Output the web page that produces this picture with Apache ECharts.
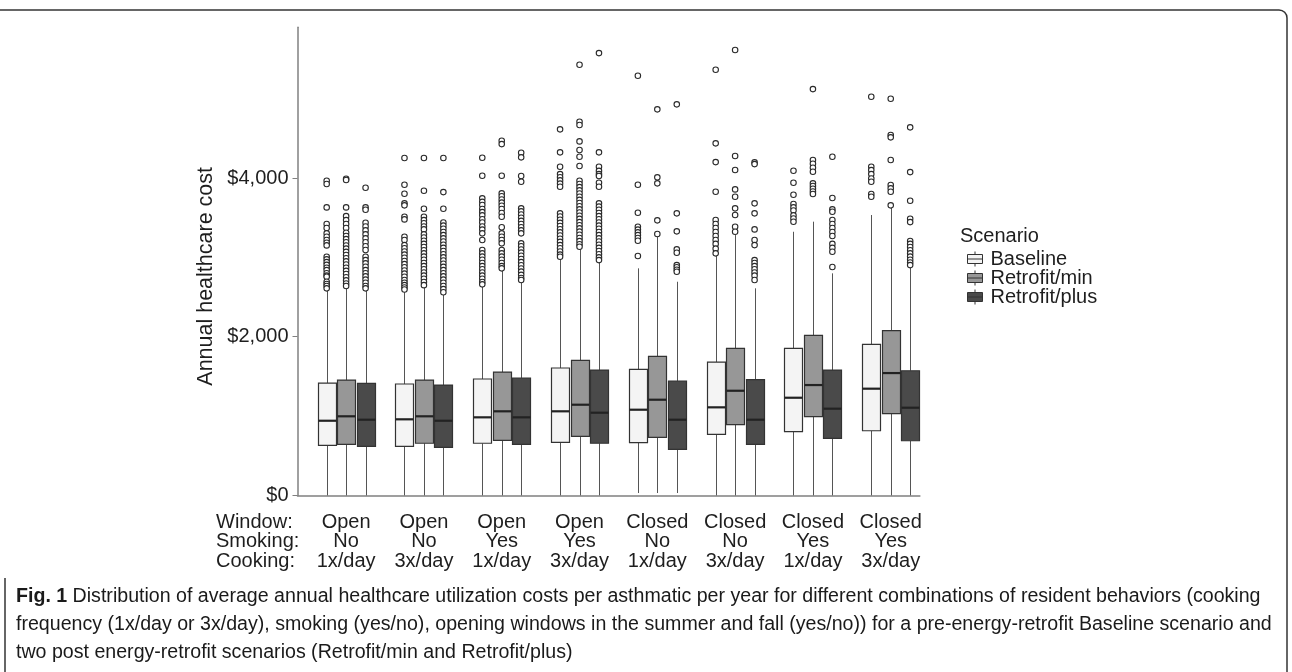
<!DOCTYPE html>
<html><head><meta charset="utf-8">
<script src="https://cdn.jsdelivr.net/npm/echarts@6/dist/echarts.min.js"></script>
<style>html,body{margin:0;padding:0;background:#fff}#c{width:1292px;height:672px}</style>
</head><body><div id="c"></div>
<script>
// ---------------- data ----------------
const groupWindow  = ['Open','Open','Open','Open','Closed','Closed','Closed','Closed'];
const groupSmoking = ['No','No','Yes','Yes','No','No','Yes','Yes'];
const groupCooking = ['1x/day','3x/day','1x/day','3x/day','1x/day','3x/day','1x/day','3x/day'];
const rowTitles = ['Window:', 'Smoking:', 'Cooking:'];
const scenarios = ['Baseline', 'Retrofit/min', 'Retrofit/plus'];
const yTicks = [0, 2000, 4000];

// [min, Q1, median, Q3, upper whisker] per behaviour group
const baselineBox = [
  [0, 631, 941, 1416, 2588], [0, 619, 959, 1404, 2588], [0, 657, 984, 1467, 2651], [0, 669, 1060, 1606, 2988],
  [30, 664, 1080, 1589, 2862], [0, 770, 1110, 1681, 3051], [0, 803, 1231, 1854, 3323], [0, 815, 1345, 1904, 3534]
];
const retrofitMinBox = [
  [0, 644, 997, 1454, 2630], [0, 657, 997, 1454, 2630], [0, 694, 1060, 1555, 2840], [0, 745, 1143, 1703, 3114],
  [30, 732, 1206, 1753, 3281], [0, 891, 1319, 1854, 3281], [0, 992, 1391, 2018, 3450], [0, 1030, 1542, 2076, 3656]
];
const retrofitPlusBox = [
  [0, 619, 954, 1413, 2588], [0, 606, 941, 1391, 2547], [0, 644, 984, 1480, 2693], [0, 657, 1042, 1580, 2945],
  [30, 581, 954, 1442, 2693], [0, 644, 954, 1458, 2610], [0, 720, 1093, 1580, 2799], [0, 689, 1105, 1571, 2882]
];

const baselineOutliers = [
  [3966, 3924, 3630, 3420, 3370, 3303, 3261, 3219, 3184, 3151, 3008, 2975, 2940, 2905, 2870, 2840, 2800, 2770, 2756, 2693, 2665, 2640, 2610],
  [4252, 3916, 3802, 3681, 3656, 3512, 3479, 3261, 3219, 3155, 3115, 3075, 3035, 2995, 2955, 2915, 2875, 2835, 2795, 2755, 2714, 2680, 2650, 2620, 2595],
  [4256, 4029, 3744, 3700, 3660, 3610, 3570, 3530, 3480, 3440, 3390, 3350, 3303, 3219, 3093, 3050, 3010, 2970, 2930, 2890, 2850, 2810, 2770, 2730, 2690, 2660],
  [4614, 4324, 4142, 4050, 4010, 3970, 3930, 3890, 3555, 3515, 3475, 3435, 3395, 3355, 3315, 3275, 3235, 3195, 3155, 3115, 3075, 3035, 3008],
  [5289, 3916, 3563, 3386, 3350, 3315, 3280, 3245, 3210, 3017],
  [5365, 4437, 4201, 3827, 3471, 3420, 3370, 3320, 3270, 3220, 3170, 3110, 3051],
  [4092, 3941, 3790, 3672, 3630, 3590, 3530, 3490, 3450],
  [5024, 4142, 4100, 4050, 3995, 3953, 3798, 3764]
];
const retrofitMinOutliers = [
  [3991, 3975, 3630, 3520, 3470, 3420, 3370, 3310, 3270, 3230, 3190, 3150, 3110, 3070, 3030, 2990, 2950, 2910, 2870, 2830, 2790, 2750, 2710, 2670, 2640],
  [4252, 3840, 3613, 3512, 3470, 3430, 3390, 3353, 3290, 3250, 3210, 3170, 3130, 3090, 3050, 3010, 2970, 2930, 2890, 2850, 2810, 2770, 2730, 2690, 2650],
  [4470, 4428, 4029, 3807, 3770, 3730, 3690, 3650, 3610, 3560, 3512, 3379, 3303, 3260, 3220, 3177, 3093, 3050, 3010, 2970, 2930, 2890, 2862],
  [5428, 4709, 4668, 4462, 4353, 4268, 4151, 3966, 3925, 3885, 3845, 3805, 3765, 3725, 3685, 3645, 3605, 3565, 3525, 3485, 3445, 3405, 3365, 3325, 3285, 3245, 3205, 3165, 3134],
  [4866, 4009, 3933, 3467, 3294],
  [5613, 4277, 4101, 3857, 3764, 3618, 3534, 3386, 3323],
  [5121, 4227, 4180, 4130, 4079, 3933, 3900, 3865, 3830, 3798],
  [4999, 4542, 4513, 4227, 3912, 3870, 3827, 3656]
];
const retrofitPlusOutliers = [
  [3878, 3630, 3600, 3437, 3390, 3340, 3290, 3240, 3190, 3140, 3093, 3008, 2965, 2925, 2882, 2840, 2800, 2760, 2720, 2680, 2640, 2610],
  [4252, 3823, 3613, 3440, 3400, 3360, 3320, 3280, 3240, 3200, 3160, 3120, 3080, 3040, 3000, 2960, 2920, 2880, 2840, 2800, 2760, 2720, 2680, 2640, 2600, 2560],
  [4319, 4261, 4025, 3953, 3618, 3580, 3540, 3500, 3460, 3420, 3380, 3340, 3303, 3177, 3140, 3100, 3060, 3020, 2980, 2940, 2900, 2860, 2820, 2780, 2740, 2714],
  [5575, 4324, 4142, 4090, 4050, 4025, 3941, 3890, 3681, 3640, 3600, 3560, 3520, 3480, 3440, 3400, 3360, 3320, 3280, 3240, 3200, 3160, 3120, 3080, 3040, 3000, 2966],
  [4929, 3555, 3328, 3101, 3059, 2903, 2875, 2845, 2819],
  [4197, 4176, 3681, 3555, 3353, 3219, 3155, 2966, 2930, 2890, 2850, 2810, 2770, 2714],
  [4268, 3748, 3605, 3575, 3471, 3420, 3370, 3320, 3270, 3170, 3120, 3071, 2878],
  [4639, 4075, 3714, 3487, 3445, 3206, 3170, 3130, 3090, 3050, 3010, 2970, 2935, 2903]
];

const captionLines = [
  'Distribution of average annual healthcare utilization costs per asthmatic per year for different combinations of resident behaviors (cooking',
  'frequency (1x/day or 3x/day), smoking (yes/no), opening windows in the summer and fall (yes/no)) for a pre-energy-retrofit Baseline scenario and',
  'two post energy-retrofit scenarios (Retrofit/min and Retrofit/plus)'
];
const captionLead = 'Fig. 1';

// ---------------- build ----------------
const boxSets = [baselineBox, retrofitMinBox, retrofitPlusBox];
const outlierSets = [baselineOutliers, retrofitMinOutliers, retrofitPlusOutliers];
const fills = ['#f4f4f4', '#979797', '#4a4a4a'];
const nGroups = groupWindow.length;
const slotsPerGroup = 4; // one spacer slot + three scenario slots
const slotNames = [];
for (let g = 0; g < nGroups; g++) for (let k = 0; k < slotsPerGroup; k++) slotNames.push('g' + g + 's' + k);
const slotOf = (g, s) => g * slotsPerGroup + 1 + s;

const FONT = '"Liberation Sans", Arial, Helvetica, sans-serif';
const TXT = '#1e1e1e';
const AX = '#808080';

function renderBox(params, api) {
  const x = api.value(0);
  const pMin = api.coord([x, api.value(1)]);
  const pQ1 = api.coord([x, api.value(2)]);
  const pMed = api.coord([x, api.value(3)]);
  const pQ3 = api.coord([x, api.value(4)]);
  const pMax = api.coord([x, api.value(5)]);
  const cx = Math.round(pMed[0]) + 0.5;
  const half = 9;
  const fill = api.visual('color');
  return {
    type: 'group',
    children: [
      { type: 'line', shape: { x1: cx, y1: pQ1[1], x2: cx, y2: pMin[1] }, style: { stroke: '#555', lineWidth: 1 } },
      { type: 'line', shape: { x1: cx, y1: pQ3[1], x2: cx, y2: pMax[1] }, style: { stroke: '#555', lineWidth: 1 } },
      { type: 'rect', shape: { x: cx - half, y: pQ3[1], width: half * 2, height: pQ1[1] - pQ3[1] },
        style: { fill: fill, stroke: '#333', lineWidth: 1.2 } },
      { type: 'line', shape: { x1: cx - half, y1: pMed[1], x2: cx + half, y2: pMed[1] }, style: { stroke: '#222', lineWidth: 2.2 } }
    ]
  };
}

const series = [];
scenarios.forEach((name, s) => {
  series.push({
    name: name,
    type: 'custom',
    renderItem: renderBox,
    itemStyle: { color: fills[s], borderColor: '#333', borderWidth: 1 },
    encode: { x: 0, y: [1, 2, 3, 4, 5] },
    data: boxSets[s].map((b, g) => [slotOf(g, s)].concat(b)),
    z: 2
  });
});
const outlierData = [];
outlierSets.forEach((set, s) => set.forEach((vals, g) => vals.forEach(v => outlierData.push([slotOf(g, s), v]))));
series.push({
  name: 'outliers',
  type: 'scatter',
  symbol: 'circle',
  symbolSize: 5.5,
  itemStyle: { color: '#ffffff', borderColor: '#2a2a2a', borderWidth: 1.1, opacity: 1 },
  data: outlierData,
  z: 3,
  silent: true
});

const CAP_SIZE = 19.6;
const GRID_TOP = 27.3, GRID_H = 468.1, GRID_LEFT = 297.5;
const AXIS_LABEL_MARGIN = 17;
const LINE_H = 19.5;

const chart = echarts.init(document.getElementById('c'), null, { renderer: 'canvas' });
chart.setOption({
  animation: false,
  backgroundColor: '#ffffff',
  textStyle: { fontFamily: FONT },
  grid: { left: GRID_LEFT, top: GRID_TOP, width: 622.4, height: GRID_H, containLabel: false, outerBoundsMode: 'none' },
  xAxis: {
    type: 'category',
    data: slotNames,
    boundaryGap: true,
    axisLine: { show: true, lineStyle: { color: AX, width: 1.5 } },
    axisTick: { show: false },
    splitLine: { show: false },
    axisLabel: {
      interval: (i) => i % slotsPerGroup === 2,
      formatter: (v, i) => {
        const g = Math.floor(i / slotsPerGroup);
        return groupWindow[g] + '\n' + groupSmoking[g] + '\n' + groupCooking[g];
      },
      fontSize: 20, lineHeight: LINE_H, color: TXT, margin: AXIS_LABEL_MARGIN, fontFamily: FONT
    }
  },
  yAxis: {
    type: 'value',
    min: 0, max: 5900,
    name: 'Annual healthcare cost',
    nameLocation: 'middle',
    nameGap: 80,
    nameTextStyle: { fontSize: 21.5, color: TXT, fontFamily: FONT, padding: [0, 30, 0, 0] },
    axisLine: { show: true, lineStyle: { color: AX, width: 1.5 } },
    axisTick: { show: true, length: 5, customValues: yTicks, lineStyle: { color: AX, width: 1 } },
    axisLabel: {
      customValues: yTicks,
      formatter: (v) => '$' + Number(v).toLocaleString('en-US'),
      fontSize: 20, color: TXT, margin: 9, fontFamily: FONT
    },
    splitLine: { show: false }
  },
  legend: {
    data: scenarios,
    orient: 'vertical',
    left: 962, top: 244,
    itemWidth: 15, itemHeight: 15, itemGap: -1,
    icon: 'path://M7.5,0L7.5,3M0,3L15,3L15,12L0,12ZM0,7.5L15,7.5M7.5,12L7.5,15',
    itemStyle: { borderColor: '#333', borderWidth: 1 },
    textStyle: { fontSize: 20, color: TXT, lineHeight: 19, fontFamily: FONT, padding: [0, 0, 0, 3] },
    selectedMode: false
  },
  graphic: [
    { type: 'text', left: 960, top: 226, style: { text: 'Scenario', fontSize: 20, fill: TXT, font: '20px ' + FONT } },
    { type: 'text', x: 216, y: GRID_TOP + GRID_H + AXIS_LABEL_MARGIN,
      style: { text: rowTitles.join('\n'), fontSize: 20, lineHeight: LINE_H, fill: TXT, fontFamily: FONT, verticalAlign: 'top', align: 'left' } },
    { type: 'text', x: 16, y: 583,
      style: {
        text: '{b|' + captionLead + '} ' + captionLines.join('\n'),
        fontSize: CAP_SIZE, lineHeight: 28, fill: '#1a1a1a', fontFamily: FONT, verticalAlign: 'top',
        rich: { b: { fontWeight: 'bold', fontSize: CAP_SIZE, fontFamily: FONT, fill: '#1a1a1a', lineHeight: 28 } }
      } },
    { type: 'line', shape: { x1: 0, y1: 10, x2: 1279, y2: 10 }, style: { stroke: '#333', lineWidth: 1.5 } },
    { type: 'arc', shape: { cx: 1279, cy: 18, r: 8, startAngle: -Math.PI / 2, endAngle: 0 }, style: { stroke: '#333', lineWidth: 1.5, fill: null } },
    { type: 'line', shape: { x1: 1287, y1: 18, x2: 1287, y2: 672 }, style: { stroke: '#333', lineWidth: 1.5 } },
    { type: 'line', shape: { x1: 5, y1: 578, x2: 5, y2: 672 }, style: { stroke: '#333', lineWidth: 1.5 } }
  ],
  series: series
});
</script>
</body></html>
